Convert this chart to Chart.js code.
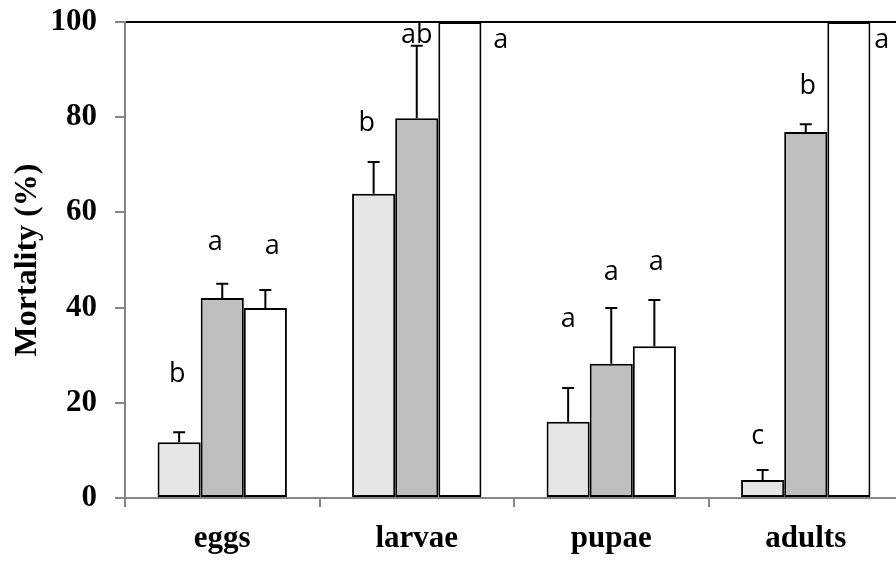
<!DOCTYPE html>
<html>
<head>
<meta charset="utf-8">
<script src="https://cdn.jsdelivr.net/npm/chart.js@4/dist/chart.umd.min.js"></script>
<style>
  html, body { margin: 0; padding: 0; background: #fff; overflow: hidden; }
  #wrap { width: 903px; height: 563px; }
</style>
</head>
<body>
<div id="wrap"><canvas id="myChart" width="903" height="563"></canvas></div>
<script>
// stages on the x axis
const categories = ['eggs', 'larvae', 'pupae', 'adults'];

// mortality (%) for the three treatments
const lightValues = [11.7, 63.9, 16.0, 3.8];
const grayValues  = [42.0, 79.8, 28.2, 76.9];
const whiteValues = [39.9, 100, 31.9, 100];

// upper error bars (same units)
const lightErrors = [2.1, 6.7, 7.1, 2.1];
const grayErrors  = [3.0, 15.2, 11.7, 1.6];
const whiteErrors = [3.8, 0, 9.7, 0];

// significance letters and the height (in %) of their baseline
const lightLetters = ['b', 'b', 'a', 'c'];
const grayLetters  = ['a', 'ab', 'a', 'b'];
const whiteLetters = ['a', 'a', 'a', 'a'];
const lightLetterAt = [24.4, 77.2, 35.9, 11.3];
const grayLetterAt  = [52.1, 95.5, 45.8, 84.9];
const whiteLetterAt = [51.3, 94.6, 47.9, 94.6];

const yTicks = [0, 20, 40, 60, 80, 100];

// small horizontal nudges for the letters (px), letters beside full bars sit to the right
const letterNudge = [
    [-2, -7, 0, -5],
    [-7, 0, 0, 2],
    [7, 41, 2, 33]
];

const serifBold = { family: "'Liberation Serif', 'Times New Roman', serif", weight: 'bold', size: 31 };

const errorBarsAndLetters = {
    id: 'errorBarsAndLetters',
    afterDatasetsDraw(chart) {
        const ctx = chart.ctx;
        const y = chart.scales.y;
        chart.data.datasets.forEach((ds, i) => {
            const meta = chart.getDatasetMeta(i);
            meta.data.forEach((bar, j) => {
                const err = ds.errors[j];
                ctx.save();
                if (err > 0) {
                    const top = y.getPixelForValue(ds.data[j]);
                    const end = y.getPixelForValue(ds.data[j] + err);
                    ctx.strokeStyle = '#000';
                    ctx.lineWidth = 2;
                    ctx.beginPath();
                    ctx.moveTo(bar.x, top);
                    ctx.lineTo(bar.x, end);
                    ctx.moveTo(bar.x - 6, end);
                    ctx.lineTo(bar.x + 6, end);
                    ctx.stroke();
                }
                ctx.fillStyle = '#000';
                ctx.font = "27px 'Open Sans', sans-serif";
                ctx.textAlign = 'center';
                ctx.textBaseline = 'alphabetic';
                ctx.fillText(ds.letters[j], bar.x + letterNudge[i][j], y.getPixelForValue(ds.letterAt[j]));
                ctx.restore();
            });
        });
    }
};

const barStyle = { borderColor: '#000', borderWidth: 2, borderSkipped: false, categoryPercentage: 0.665, barPercentage: 1 };

new Chart('myChart', {
    type: 'bar',
    data: {
        labels: categories,
        datasets: [
            { ...barStyle, data: lightValues, errors: lightErrors, letters: lightLetters, letterAt: lightLetterAt, backgroundColor: '#e6e6e6' },
            { ...barStyle, data: grayValues, errors: grayErrors, letters: grayLetters, letterAt: grayLetterAt, backgroundColor: '#bfbfbf' },
            { ...barStyle, data: whiteValues, errors: whiteErrors, letters: whiteLetters, letterAt: whiteLetterAt, backgroundColor: '#ffffff' }
        ]
    },
    options: {
        responsive: false,
        animation: false,
        devicePixelRatio: 1,
        layout: { padding: { top: 22, left: 0, right: 0, bottom: 0 } },
        plugins: { legend: { display: false }, tooltip: { enabled: false } },
        scales: {
            x: {
                grid: { drawOnChartArea: false, offset: true, tickLength: 9, tickColor: '#868686', color: '#868686', lineWidth: 2 },
                border: { color: '#868686', width: 2 },
                ticks: { color: '#000', font: serifBold, padding: 13, maxRotation: 0 },
                afterFit(scale) { scale.height = 65; scale.paddingLeft = 0; scale.paddingRight = 0; }
            },
            y: {
                min: 0,
                max: 100,
                afterBuildTicks(scale) { scale.ticks = yTicks.map(v => ({ value: v })); },
                grid: {
                    color: c => (c.tick && c.tick.value === 100) ? '#000' : 'rgba(0,0,0,0)',
                    lineWidth: 2,
                    tickColor: '#868686',
                    tickLength: 10
                },
                border: { color: '#868686', width: 2 },
                ticks: { color: '#000', font: serifBold, padding: 18 },
                title: {
                    display: true,
                    text: 'Mortality (%)',
                    color: '#000',
                    font: { family: "'Liberation Serif', 'Times New Roman', serif", weight: 'bold', size: 32 },
                    padding: { top: 9, bottom: 0 }
                },
                afterFit(scale) { scale.width = 125; scale.paddingTop = 0; scale.paddingBottom = 0; }
            }
        }
    },
    plugins: [errorBarsAndLetters]
});
</script>
</body>
</html>
